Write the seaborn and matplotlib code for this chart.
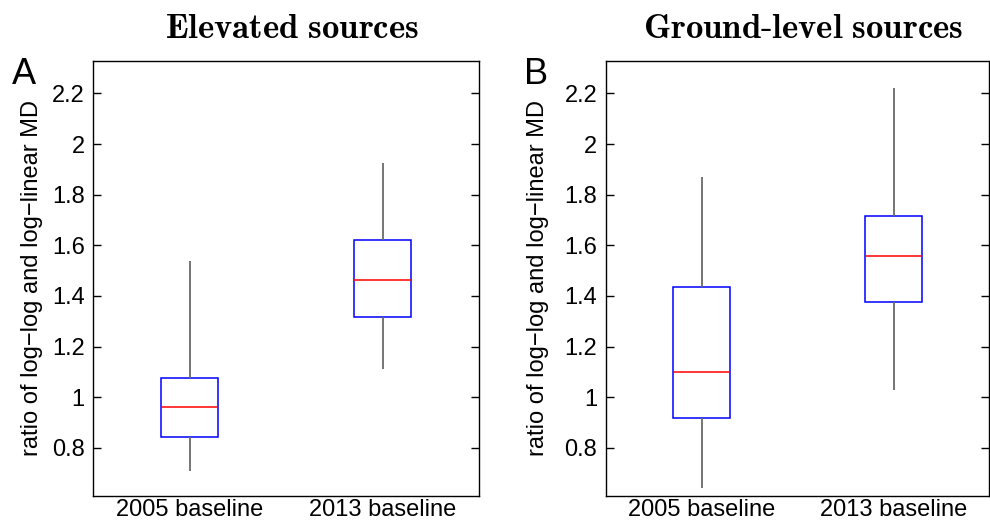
import numpy as np
import pandas as pd
import matplotlib
matplotlib.use("Agg")
import matplotlib.pyplot as plt
import seaborn as sns

# Data: five-number summaries (min, Q1, median, Q3, max)
categories = ["2005 baseline", "2013 baseline"]
elevated_2005 = [0.709, 0.842, 0.963, 1.076, 1.537]
elevated_2013 = [1.110, 1.315, 1.462, 1.623, 1.924]
ground_2005 = [0.640, 0.919, 1.098, 1.437, 1.870]
ground_2013 = [1.028, 1.378, 1.556, 1.714, 2.223]
yticks = [0.8, 1.0, 1.2, 1.4, 1.6, 1.8, 2.0, 2.2]
ytick_labels = ["0.8", "1", "1.2", "1.4", "1.6", "1.8", "2", "2.2"]
titles = ["Elevated sources", "Ground-level sources"]
letters = ["A", "B"]
ylabel = "ratio of log\u2212log and log\u2212linear MD"

sns.set_theme(style="white")
plt.rcParams["font.family"] = ["Liberation Sans", "DejaVu Sans"]
plt.rcParams["mathtext.fontset"] = "cm"
plt.rcParams["text.color"] = "black"
plt.rcParams["axes.labelcolor"] = "black"

def make_df(a, b):
    return pd.DataFrame({
        "baseline": [categories[0]] * len(a) + [categories[1]] * len(b),
        "value": list(a) + list(b),
    })

dfs = [make_df(elevated_2005, elevated_2013), make_df(ground_2005, ground_2013)]

fig = plt.figure(figsize=(9.9, 5.2), dpi=100)
W, H = 990, 520
positions = [(93, 479), (605.5, 989.5)]
label_x = [-0.129, -0.146]
top, bottom = 60.5, 496
axes = []
for (l, r) in positions:
    ax = fig.add_axes([l / W, (H - bottom) / H, (r - l) / W, (bottom - top) / H])
    axes.append(ax)

for i, ax in enumerate(axes):
    sns.boxplot(
        data=dfs[i], x="baseline", y="value", order=categories, ax=ax,
        whis=(0, 100), width=0.3, color="white", linecolor="blue", linewidth=1.1,
        showcaps=False, showfliers=False,
        medianprops=dict(color="red", linewidth=1.1),
        whiskerprops=dict(color="#6a6a6a", linewidth=1.3),
        boxprops=dict(facecolor="white", edgecolor="blue", linewidth=1.1),
    )
    ax.set_xlim(-0.5, 1.5)
    ax.set_ylim(0.61, 2.33)
    ax.set_yticks(yticks)
    ax.set_yticklabels(ytick_labels)
    ax.set_xlabel("")
    ax.set_ylabel(ylabel, fontsize=17, color="black")
    ax.yaxis.set_label_coords(label_x[i], 0.5)
    ax.tick_params(axis="y", direction="in", length=6, width=1, color="black",
                   right=True, left=True, labelsize=17, pad=6, labelcolor="black")
    ax.tick_params(axis="x", length=0, labelsize=17, pad=2, labelcolor="black")
    for s in ax.spines.values():
        s.set_visible(True)
        s.set_color("black")
        s.set_linewidth(1.0)
    ax.set_facecolor("white")

fig.text(292 / W, 1 - 28 / H, r"$\mathbf{" + titles[0].replace(" ", r"\ ") + "}$",
         ha="center", va="center", fontsize=25, color="black")
fig.text(803 / W, 1 - 28 / H, r"$\mathbf{" + titles[1].replace(" ", r"\ ").replace("-", r"\text{-}") + "}$",
         ha="center", va="center", fontsize=25, color="black")
fig.text(24 / W, 1 - 74.5 / H, letters[0], ha="center", va="center", fontsize=26, color="black")
fig.text(536 / W, 1 - 74.5 / H, letters[1], ha="center", va="center", fontsize=26, color="black")

fig.savefig("out.png", dpi=100, facecolor="white")
